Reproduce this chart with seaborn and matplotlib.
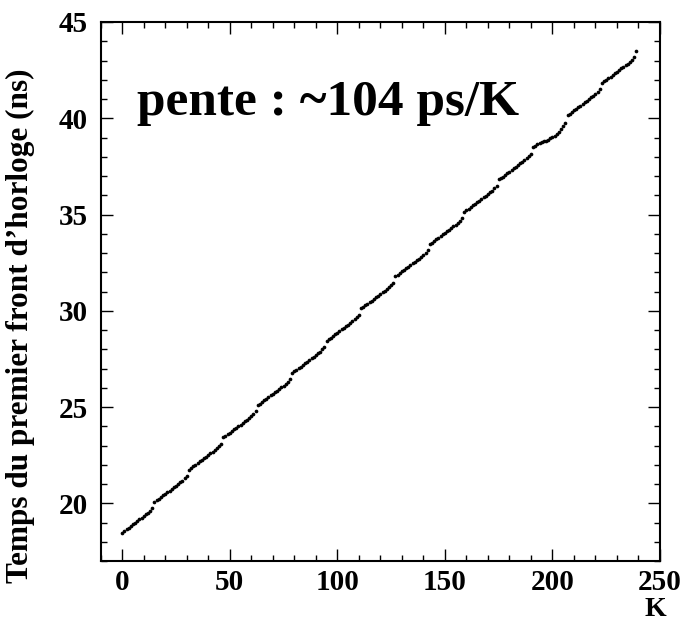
import numpy as np
import pandas as pd
import matplotlib
matplotlib.use("Agg")
import matplotlib.pyplot as plt
from matplotlib.ticker import MultipleLocator
import seaborn as sns

# K index of the point (0..239)
k_values = list(range(240))

# Time of first clock edge (ns)
block_0 = [18.48, 18.57, 18.65, 18.74, 18.82, 18.91, 18.99, 19.08,
           19.16, 19.25, 19.33, 19.42, 19.51, 19.62, 19.75]
block_1 = [20.08, 20.15, 20.24, 20.32, 20.41, 20.49, 20.58, 20.66,
           20.75, 20.83, 20.92, 21.00, 21.08, 21.18, 21.29, 21.42]
block_2 = [21.75, 21.83, 21.91, 22.00, 22.08, 22.17, 22.25, 22.33,
           22.42, 22.50, 22.59, 22.67, 22.76, 22.85, 22.97, 23.09]
block_3 = [23.43, 23.50, 23.59, 23.67, 23.75, 23.84, 23.92, 24.01,
           24.09, 24.18, 24.26, 24.35, 24.43, 24.53, 24.64, 24.77]
block_4 = [25.10, 25.17, 25.26, 25.34, 25.43, 25.51, 25.60, 25.68,
           25.77, 25.85, 25.94, 26.02, 26.11, 26.20, 26.31, 26.44]
block_5 = [26.77, 26.85, 26.93, 27.02, 27.10, 27.19, 27.27, 27.36,
           27.44, 27.52, 27.61, 27.69, 27.78, 27.87, 27.99, 28.11]
block_6 = [28.45, 28.52, 28.61, 28.69, 28.78, 28.86, 28.94, 29.03,
           29.11, 29.20, 29.28, 29.37, 29.45, 29.55, 29.66, 29.79]
block_7 = [30.12, 30.20, 30.28, 30.36, 30.45, 30.53, 30.62, 30.70,
           30.79, 30.87, 30.96, 31.04, 31.13, 31.22, 31.34, 31.46]
block_8 = [31.79, 31.87, 31.95, 32.04, 32.12, 32.21, 32.29, 32.38,
           32.46, 32.55, 32.63, 32.71, 32.80, 32.89, 33.01, 33.13]
block_9 = [33.47, 33.54, 33.63, 33.71, 33.80, 33.88, 33.97, 34.05,
           34.13, 34.22, 34.30, 34.39, 34.47, 34.57, 34.68, 34.81]
block_10 = [35.14, 35.22, 35.30, 35.39, 35.47, 35.55, 35.64, 35.72,
            35.81, 35.89, 35.98, 36.06, 36.15, 36.24, 36.36, 36.48]
block_11 = [36.82, 36.89, 36.97, 37.06, 37.14, 37.23, 37.31, 37.40,
            37.48, 37.57, 37.65, 37.74, 37.82, 37.91, 38.03, 38.15]
block_12 = [38.49, 38.56, 38.65, 38.73, 38.77, 38.80, 38.84, 38.89,
            38.96, 39.02, 39.10, 39.19, 39.29, 39.43, 39.58, 39.76]
block_13 = [40.16, 40.24, 40.32, 40.41, 40.49, 40.58, 40.66, 40.74,
            40.83, 40.91, 41.00, 41.08, 41.17, 41.26, 41.38, 41.50]
block_14 = [41.84, 41.91, 42.00, 42.08, 42.16, 42.25, 42.33, 42.42,
            42.50, 42.59, 42.67, 42.76, 42.84, 42.94, 43.05, 43.17]
block_15 = [43.47]

time_ns = (block_0 + block_1 + block_2 + block_3 + block_4 + block_5
           + block_6 + block_7 + block_8 + block_9 + block_10 + block_11
           + block_12 + block_13 + block_14 + block_15)

df = pd.DataFrame({"K": k_values, "t": time_ns})

sns.set_style("ticks")
plt.rcParams.update({
    "font.family": ["Liberation Serif", "DejaVu Serif"],
    "font.weight": "bold",
    "text.color": "black",
    "axes.labelcolor": "black",
    "xtick.color": "black",
    "ytick.color": "black",
})

fig = plt.figure(figsize=(6.81, 6.22), dpi=100)
ax = fig.add_axes([100.7 / 681, 1 - 561 / 622, (660 - 100.7) / 681, (561 - 22) / 622])

sns.scatterplot(data=df, x="K", y="t", ax=ax, color="black", s=7,
                marker="o", linewidth=0, legend=False)

ax.set_xlim(-10, 250)
ax.set_ylim(17, 45)
ax.xaxis.set_major_locator(MultipleLocator(50))
ax.xaxis.set_minor_locator(MultipleLocator(10))
ax.yaxis.set_major_locator(MultipleLocator(5))
ax.yaxis.set_minor_locator(MultipleLocator(1))
ax.tick_params(which="both", direction="in", top=True, right=True,
               labeltop=False, labelright=False, width=1.0, color="black")
ax.tick_params(which="major", length=8.5, labelsize=21)
ax.tick_params(axis="x", which="major", pad=6)
ax.tick_params(axis="y", which="major", pad=9)
ax.tick_params(which="minor", length=4)
for lbl in ax.get_xticklabels() + ax.get_yticklabels():
    lbl.set_fontweight("bold")
for sp in ax.spines.values():
    sp.set_linewidth(1.5)
    sp.set_color("black")

ax.set_xlabel("")
ax.set_ylabel("")
fig.text(655 / 681, 1 - 609 / 622, "K", ha="center", va="center",
         fontsize=20, fontweight="bold")
fig.text(20 / 681, 1 - 326 / 622, "Temps du premier front d\u2019horloge (ns)",
         rotation=90, ha="center", va="center", fontsize=22.5, fontweight="bold")

ax.text(7, 40.8, "pente : ~104 ps/K", ha="left", va="center",
        fontsize=37, fontweight="bold")

fig.savefig("out.png", dpi=100)
